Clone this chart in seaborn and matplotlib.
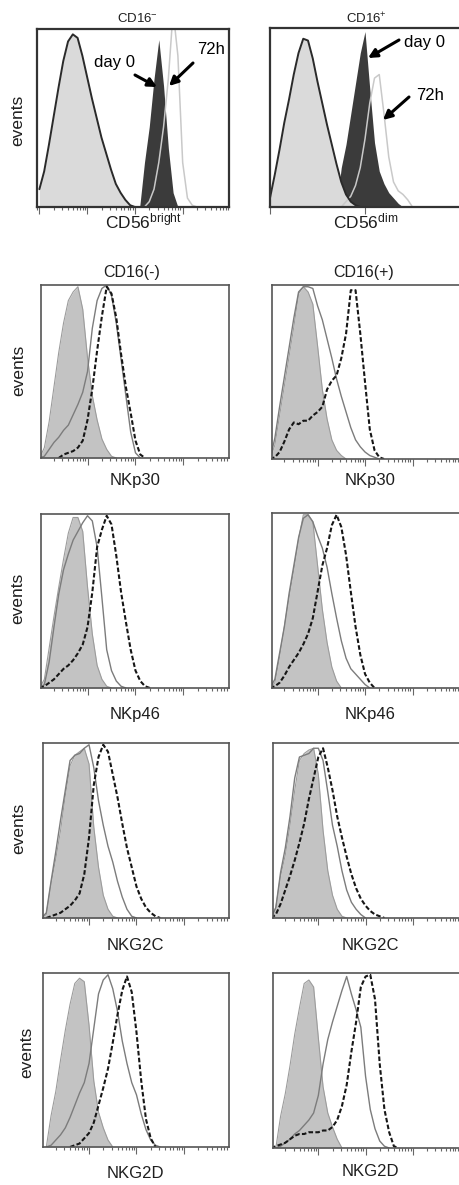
import numpy as np
import matplotlib
matplotlib.use("Agg")
import matplotlib.pyplot as plt
from matplotlib.ticker import LogLocator, NullFormatter
import seaborn as sns

decades = [0.0, 0.1, 0.2, 0.3, 0.4, 0.5, 0.6, 0.7, 0.8, 0.9, 1.0, 1.1, 1.2, 1.3, 1.4, 1.5, 1.6,
           1.7, 1.8, 1.9, 2.0, 2.1, 2.2, 2.3, 2.4, 2.5, 2.6, 2.7, 2.8, 2.9, 3.0, 3.1, 3.2, 3.3]

# row 1: CD56 bright / dim  (isotype, day 0 filled, 72h line)
cd56bright_iso = [10, 20, 35, 51, 67, 82, 93, 97, 95, 85, 73, 61, 50, 39, 30, 21, 13, 8, 4, 1, 0]
cd56bright_day0 = [0, 25, 45, 72, 94, 68, 33, 8, 0]          # from 2.1
cd56bright_72h = [0, 3, 10, 25, 45, 72, 110, 85, 25, 5, 1, 0]  # from 2.2
cd56dim_iso = [5, 18, 32, 47, 60, 74, 86, 94, 93, 83, 70, 58, 46, 35, 24, 14, 7, 3, 1, 0]
cd56dim_day0 = [0, 22, 35, 52, 69, 86, 98, 66, 36, 20, 13, 8, 5, 2, 0]   # from 1.4
cd56dim_72h = [0, 3, 6, 12, 22, 38, 58, 72, 74, 52, 28, 14, 9, 7, 4, 0]  # from 1.5

# rows 2-5: receptors, CD16(-) and CD16(+)
nkp30_neg_iso = [0, 6, 21, 41, 61, 78, 91, 96, 99, 86, 58, 36, 22, 11, 5, 1, 0]
nkp30_neg_day0 = [0, 1, 5, 9, 12, 16, 19, 25, 31, 38, 50, 75, 91, 98, 100, 94, 78, 57, 36, 15, 3, 0]
nkp30_neg_72h = [0, 2, 3, 4, 6, 10, 22, 40, 62, 82, 99, 95, 81, 60, 41, 26, 10, 2, 0]  # from 0.4
nkp30_pos_iso = [0, 8, 25, 42, 59, 76, 95, 99, 96, 89, 65, 40, 23, 11, 5, 2, 0]
nkp30_pos_day0 = [0, 12, 30, 47, 64, 81, 96, 99, 99, 98, 88, 80, 69, 58, 46, 36, 27, 18, 11, 7, 4, 2, 1, 0]
nkp30_pos_72h = [0, 1, 4, 10, 17, 21, 20, 22, 22, 25, 27, 30, 40, 45, 48, 58, 72, 97, 97, 72, 44, 17, 5, 1, 0]

nkp46_neg_iso = [0, 5, 23, 41, 58, 74, 89, 98, 98, 90, 58, 31, 13, 5, 1, 0]
nkp46_neg_day0 = [0, 2, 15, 35, 54, 68, 77, 85, 90, 95, 99, 96, 81, 52, 22, 10, 4, 1, 0]
nkp46_neg_72h = [0, 1, 3, 5, 8, 11, 13, 16, 20, 25, 35, 55, 81, 91, 99, 94, 76, 55, 38, 22, 10, 4, 1, 0]
nkp46_pos_iso = [0, 3, 18, 35, 52, 68, 85, 99, 99, 95, 70, 45, 26, 12, 4, 0]
nkp46_pos_day0 = [0, 5, 20, 35, 54, 70, 86, 97, 99, 95, 87, 80, 69, 54, 40, 27, 17, 11, 8, 5, 2, 0]
nkp46_pos_72h = [0, 1, 3, 7, 12, 16, 20, 25, 31, 40, 55, 70, 80, 93, 99, 92, 76, 55, 35, 19, 8, 3, 0]

nkg2c_neg_iso = [0, 2, 20, 34, 50, 70, 87, 93, 95, 97, 88, 52, 29, 13, 5, 1, 0]
nkg2c_neg_day0 = [0, 3, 21, 38, 56, 73, 90, 93, 94, 97, 99, 86, 67, 53, 41, 32, 21, 12, 5, 1, 0]
nkg2c_neg_72h = [0, 0, 1, 2, 3, 5, 7, 10, 14, 25, 46, 76, 92, 99, 95, 82, 69, 54, 40, 29, 18, 11, 6, 3, 1, 0]
nkg2c_pos_iso = [0, 6, 24, 36, 53, 73, 90, 94, 96, 97, 82, 50, 27, 13, 5, 1, 0]
nkg2c_pos_day0 = [0, 6, 26, 40, 58, 80, 92, 93, 94, 97, 97, 90, 72, 53, 41, 27, 16, 9, 5, 2, 0]
nkg2c_pos_72h = [0, 2, 8, 16, 24, 33, 43, 54, 68, 80, 92, 97, 86, 73, 58, 46, 35, 25, 17, 11, 7, 4, 2, 1, 0]

nkg2d_neg_iso = [0, 0, 18, 32, 50, 67, 82, 94, 97, 95, 70, 38, 20, 11, 4, 0]
nkg2d_neg_day0 = [0, 0, 1, 4, 7, 11, 17, 24, 31, 37, 48, 68, 88, 96, 99, 91, 78, 61, 48, 37, 30, 19, 10, 4, 1, 0]
nkg2d_neg_72h = [0, 1, 2, 5, 8, 14, 24, 34, 45, 60, 76, 90, 98, 89, 66, 38, 16, 5, 0]  # from 0.6
nkg2d_pos_iso = [0, 0, 18, 31, 47, 65, 80, 94, 96, 92, 63, 35, 20, 12, 5, 0]
nkg2d_pos_day0 = [0, 0, 1, 3, 5, 8, 10, 13, 16, 20, 30, 48, 62, 72, 81, 90, 98, 88, 79, 69, 41, 22, 11, 4, 1, 0]
nkg2d_pos_72h = [0, 1, 2, 3, 5, 7, 8, 8, 9, 9, 9, 10, 10, 12, 16, 24, 36, 55, 72, 92, 98, 99, 85, 48, 22, 9, 1, 0]

receptors = ["NKp30", "NKp46", "NKG2C", "NKG2D"]

sns.set_style("white")
plt.rcParams["font.family"] = ["Liberation Sans", "DejaVu Sans"]
plt.rcParams["mathtext.fontset"] = "custom"
plt.rcParams["mathtext.rm"] = "Liberation Sans"
plt.rcParams["mathtext.it"] = "Liberation Sans:italic"
plt.rcParams["mathtext.bf"] = "Liberation Sans:bold"

W, H = 459, 1185
fig = plt.figure(figsize=(W / 100, H / 100), dpi=100)
TXT = "#1e1e1e"
x = 10 ** np.array(decades)


def on_grid(vals, start=0.0):
    i0 = int(round(start * 10))
    y = [0] * i0 + list(vals)
    y += [0] * (len(decades) - len(y))
    return np.array(y, dtype=float)


def support(y):
    nz = np.nonzero(y)[0]
    a = max(nz[0] - 1, 0)
    b = min(nz[-1] + 2, len(y))
    return slice(a, b)


def px(xp, yp):
    return xp / W, 1 - yp / H


def make_ax(l, t, r, b, lo, hi, frame="#555555", lw=1.2):
    ax = fig.add_axes([l / W, 1 - b / H, (r - l) / W, (b - t) / H])
    ax.set_xscale("log")
    ax.set_xlim(10 ** lo, 10 ** hi)
    ax.set_ylim(0, 100)
    ax.set_yticks([])
    ax.xaxis.set_major_locator(LogLocator(base=10))
    ax.xaxis.set_minor_locator(LogLocator(base=10, subs=np.arange(2, 10)))
    ax.xaxis.set_minor_formatter(NullFormatter())
    ax.tick_params(axis="x", which="both", direction="out", bottom=True,
                   labelbottom=False, color="#666666", width=0.8)
    ax.tick_params(axis="x", which="major", length=5)
    ax.tick_params(axis="x", which="minor", length=2.5)
    for s in ax.spines.values():
        s.set_color(frame)
        s.set_linewidth(lw)
        s.set_visible(True)
    return ax


def line(ax, y, **kw):
    sl = support(y)
    sns.lineplot(x=x[sl], y=y[sl], ax=ax, estimator=None, sort=False, **kw)


def row1_panel(ax, iso, day0, h72):
    line(ax, h72, color="#c9c9c9", lw=1.1)
    ax.fill_between(x, day0, color="#3b3b3b", lw=0)
    ax.fill_between(x, iso, color="#dadada", lw=0)
    line(ax, iso, color="#2a2a2a", lw=1.4)
    ax.set_xlabel("")
    ax.set_ylabel("")


def receptor_panel(ax, iso, day0, h72):
    ax.fill_between(x, iso, color="#c3c3c3", lw=0)
    line(ax, iso, color="#9c9c9c", lw=0.8)
    line(ax, day0, color="#7c7c7c", lw=1.0)
    line(ax, h72, color="#161616", lw=1.5, linestyle=(0, (2.2, 1.1)))
    ax.set_xlabel("")
    ax.set_ylabel("")


# ---- row 1
axL = make_ax(37, 29, 229, 207, -0.05, 3.97, frame="#333333", lw=1.6)
row1_panel(axL, on_grid(cd56bright_iso), on_grid(cd56bright_day0, 2.1), on_grid(cd56bright_72h, 2.2))
axR = make_ax(270, 28, 460, 207, 0.0, 4.0, frame="#333333", lw=1.6)
row1_panel(axR, on_grid(cd56dim_iso), on_grid(cd56dim_day0, 1.4), on_grid(cd56dim_72h, 1.5))

fig.text(*px(137, 19), r"CD16$^{\mathrm{-}}$", ha="center", va="center", fontsize=9.5, color=TXT)
fig.text(*px(366, 19), r"CD16$^{\mathrm{+}}$", ha="center", va="center", fontsize=9.5, color=TXT)
fig.text(*px(143, 221), r"CD56$^{\mathrm{bright}}$", ha="center", va="center", fontsize=12.5, color=TXT)
fig.text(*px(366, 221), r"CD56$^{\mathrm{dim}}$", ha="center", va="center", fontsize=12.5, color=TXT)

arrow = dict(arrowstyle="-|>", color="black", lw=2.2, mutation_scale=13, shrinkA=0, shrinkB=0)
fig.text(*px(115, 63), "day 0", ha="center", va="center", fontsize=12, color="black")
axL.annotate("", xy=px(157, 87), xytext=px(135, 75), xycoords="figure fraction",
             textcoords="figure fraction", arrowprops=arrow, annotation_clip=False)
fig.text(*px(211, 50), "72h", ha="center", va="center", fontsize=12, color="black")
axL.annotate("", xy=px(169, 86), xytext=px(193, 63), xycoords="figure fraction",
             textcoords="figure fraction", arrowprops=arrow, annotation_clip=False)
fig.text(*px(424, 43), "day 0", ha="center", va="center", fontsize=12, color="black")
axR.annotate("", xy=px(368, 58), xytext=px(399, 40), xycoords="figure fraction",
             textcoords="figure fraction", arrowprops=arrow, annotation_clip=False)
fig.text(*px(430, 95), "72h", ha="center", va="center", fontsize=12, color="black")
axR.annotate("", xy=px(383, 120), xytext=px(409, 97), xycoords="figure fraction",
             textcoords="figure fraction", arrowprops=arrow, annotation_clip=False)

# ---- rows 2-5
boxes_left = [(41, 285, 229, 458), (41, 514, 229, 688), (43, 743, 229, 918), (43, 973, 229, 1147)]
boxes_right = [(272, 285, 460, 459), (272, 513, 460, 688), (273, 743, 460, 918), (273, 973, 460, 1148)]
data_left = [(nkp30_neg_iso, nkp30_neg_day0, nkp30_neg_72h, 0.4),
             (nkp46_neg_iso, nkp46_neg_day0, nkp46_neg_72h, 0.0),
             (nkg2c_neg_iso, nkg2c_neg_day0, nkg2c_neg_72h, 0.0),
             (nkg2d_neg_iso, nkg2d_neg_day0, nkg2d_neg_72h, 0.6)]
data_right = [(nkp30_pos_iso, nkp30_pos_day0, nkp30_pos_72h, 0.0),
              (nkp46_pos_iso, nkp46_pos_day0, nkp46_pos_72h, 0.0),
              (nkg2c_pos_iso, nkg2c_pos_day0, nkg2c_pos_72h, 0.0),
              (nkg2d_pos_iso, nkg2d_pos_day0, nkg2d_pos_72h, 0.0)]
label_y_left = [481, 715, 946, 1174]
label_y_right = [481, 714, 946, 1171]
events_pos = [(18, 120), (19, 370), (18, 598), (19, 828), (27, 1052)]

for i in range(4):
    l, t, r, b = boxes_left[i]
    ax = make_ax(l, t, r, b, 0.03, 3.95)
    iso, d0, h72, s72 = data_left[i]
    receptor_panel(ax, on_grid(iso), on_grid(d0), on_grid(h72, s72))
    l, t, r, b = boxes_right[i]
    ax = make_ax(l, t, r, b, 0.04, 4.0)
    iso, d0, h72, s72 = data_right[i]
    receptor_panel(ax, on_grid(iso), on_grid(d0), on_grid(h72, s72))
    fig.text(*px(135, label_y_left[i]), receptors[i], ha="center", va="center", fontsize=12, color=TXT)
    fig.text(*px(370, label_y_right[i]), receptors[i], ha="center", va="center", fontsize=12, color=TXT)

fig.text(*px(132, 272), "CD16(-)", ha="center", va="center", fontsize=11.5, color=TXT)
fig.text(*px(364, 272), "CD16(+)", ha="center", va="center", fontsize=11.5, color=TXT)

for ex, ey in events_pos:
    fig.text(*px(ex, ey), "events", ha="center", va="center", rotation=90, fontsize=12.5, color=TXT)

fig.savefig("out.png", dpi=100, facecolor="white")
